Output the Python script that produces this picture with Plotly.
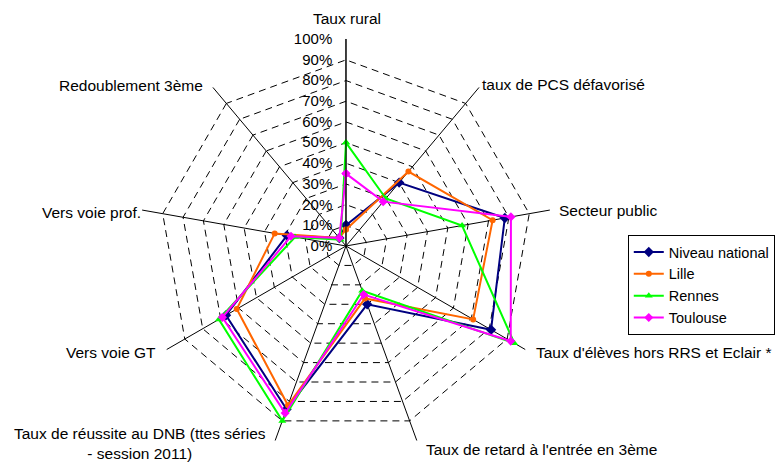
import plotly.graph_objects as go

categories = [
    "Taux rural",
    "taux de PCS défavorisé",
    "Secteur public",
    "Taux d'élèves hors RRS et Eclair *",
    "Taux de retard à l'entrée en 3ème",
    "Taux de réussite au DNB (ttes séries<br>- session 2011)",
    "Vers voie GT",
    "Vers voie prof.",
    "Redoublement 3ème",
]

niveau_national = [0.10, 0.40, 0.78, 0.81, 0.30, 0.84, 0.67, 0.29, 0.05]
lille = [0.08, 0.47, 0.72, 0.71, 0.27, 0.82, 0.61, 0.35, 0.05]
rennes = [0.50, 0.30, 0.57, 0.94, 0.23, 0.90, 0.71, 0.25, 0.04]
toulouse = [0.35, 0.28, 0.81, 0.92, 0.25, 0.86, 0.69, 0.27, 0.05]

radial_ticks = [0, 0.1, 0.2, 0.3, 0.4, 0.5, 0.6, 0.7, 0.8, 0.9, 1.0]

series = [
    ("Niveau national", niveau_national, "#000080", "diamond", 8),
    ("Lille", lille, "#FF6600", "circle", 6),
    ("Rennes", rennes, "#00FF00", "triangle-up", 7),
    ("Toulouse", toulouse, "#FF00FF", "diamond", 7),
]

W, H = 776, 463
# category label placement (pixel position, x anchor) -- layout only
label_layout = [
    (347, 18, "center"),
    (480, 85, "left"),
    (557, 210, "left"),
    (534, 352, "left"),
    (424, 449, "left"),
    (140, 443, "center"),
    (158, 352, "right"),
    (143, 212, "right"),
    (205, 86, "right"),
]

fig = go.Figure()
for name, vals, color, sym, size in series:
    fig.add_trace(go.Scatterpolar(
        r=vals + vals[:1],
        theta=categories + categories[:1],
        mode="lines+markers",
        name=name,
        line=dict(color=color, width=2),
        marker=dict(color=color, symbol=sym, size=size),
    ))

FONT = "Liberation Sans, Arial, sans-serif"

annotations = []
for text, (px, py, anchor) in zip(categories, label_layout):
    annotations.append(dict(
        text=text, xref="paper", yref="paper",
        x=px / W, y=1 - py / H,
        xanchor=anchor, yanchor="middle", align="center",
        showarrow=False,
        font=dict(family=FONT, size=15.5, color="black"),
    ))

fig.update_layout(
    width=W, height=H,
    margin=dict(l=0, r=0, t=0, b=0),
    paper_bgcolor="white",
    plot_bgcolor="white",
    font=dict(family=FONT, size=15, color="black"),
    annotations=annotations,
    polar=dict(
        domain=dict(x=[0.1791, 0.7126], y=[0.0216, 0.9158]),
        bgcolor="white",
        gridshape="linear",
        angularaxis=dict(
            rotation=90,
            direction="clockwise",
            showline=False,
            showgrid=True,
            gridcolor="black",
            gridwidth=1,
            ticks="",
            showticklabels=False,
        ),
        radialaxis=dict(
            range=[0, 1.001],
            tickvals=radial_ticks,
            tickformat=".0%",
            angle=90,
            tickangle=90,
            side="counterclockwise",
            showline=True,
            linecolor="black",
            linewidth=1,
            showgrid=True,
            gridcolor="black",
            gridwidth=1,
            griddash="7px,5px",
            ticks="outside",
            ticklen=8,
            tickcolor="rgba(0,0,0,0)",
            tickfont=dict(family=FONT, size=15, color="black"),
        ),
    ),
    legend=dict(
        x=0.809, y=0.4924, xanchor="left", yanchor="top",
        bordercolor="black", borderwidth=1,
        bgcolor="white",
        font=dict(family=FONT, size=14.5, color="black"),
        itemwidth=30,
        tracegroupgap=0,
    ),
)

fig.write_html("out.html", config={"displayModeBar": False},
               post_script="document.body.style.margin='0';")
